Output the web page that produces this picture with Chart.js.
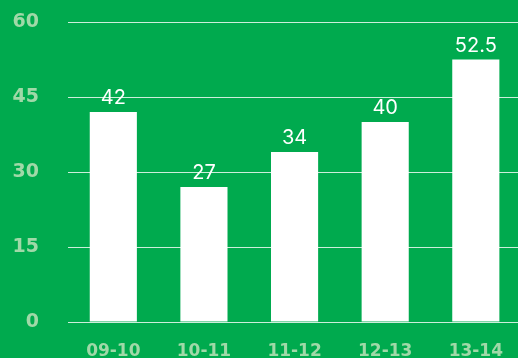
<!DOCTYPE html>
<html>
<head>
<meta charset="utf-8">
<script src="https://cdn.jsdelivr.net/npm/chart.js@4"></script>
<style>
  html, body { margin: 0; padding: 0; background: #00aa4e; overflow: hidden; }
  #wrap { width: 522px; height: 358px; }
</style>
</head>
<body>
<div id="wrap"><canvas id="chart"></canvas></div>
<script>
const seasons = ['09-10', '10-11', '11-12', '12-13', '13-14'];
const values = [42, 27, 34, 40, 52.5];
const yMin = 0;
const yMax = 60;
const yStep = 15;

const paleGreen = '#a0d9a8';

// value labels above each bar
const barLabels = {
  id: 'barLabels',
  afterDatasetsDraw(chart) {
    const ctx = chart.ctx;
    const meta = chart.getDatasetMeta(0);
    ctx.save();
    ctx.fillStyle = '#ffffff';
    ctx.font = '20px Inter';
    ctx.textAlign = 'center';
    ctx.textBaseline = 'bottom';
    meta.data.forEach((bar, i) => {
      ctx.fillText(String(values[i]), bar.x, bar.y - 4);
    });
    ctx.restore();
  }
};

new Chart(document.getElementById('chart'), {
  type: 'bar',
  data: {
    labels: seasons,
    datasets: [{
      data: values,
      backgroundColor: '#ffffff',
      borderWidth: 0,
      barPercentage: 0.52,
      categoryPercentage: 1
    }]
  },
  options: {
    responsive: true,
    maintainAspectRatio: false,
    animation: false,
    layout: { padding: { top: 22, left: 0, right: 0, bottom: 0 } },
    plugins: {
      legend: { display: false },
      tooltip: { enabled: false }
    },
    scales: {
      x: {
        grid: { display: false, drawTicks: false },
        border: { display: false },
        ticks: {
          color: paleGreen,
          font: { family: 'DejaVu Sans', size: 17, weight: 'bold' },
          padding: 19
        },
        afterFit(scale) { scale.height = 36; }
      },
      y: {
        min: yMin,
        max: yMax,
        grid: { color: 'rgba(255,255,255,0.8)', lineWidth: 1, drawTicks: false },
        border: { display: false },
        ticks: {
          stepSize: yStep,
          color: paleGreen,
          font: { family: 'DejaVu Sans', size: 19, weight: 'bold' },
          padding: 29
        },
        afterFit(scale) {
          scale.width = 68;
          // tick padding would otherwise push the plot area down
          scale.paddingTop = 0;
          scale.paddingBottom = 0;
        }
      }
    }
  },
  plugins: [barLabels]
});
</script>
</body>
</html>
